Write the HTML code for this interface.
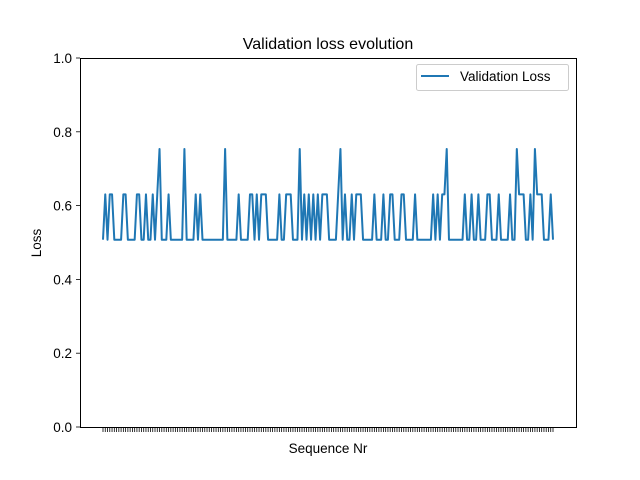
<!DOCTYPE html>
<html><head><meta charset="utf-8"><style>
body{margin:0;background:#fff;}
svg{display:block;font-family:"Liberation Sans","DejaVu Sans",sans-serif;}
</style></head><body>
<svg id="chart" width="640" height="480" viewBox="0 0 640 480">
<rect x="0" y="0" width="640" height="480" fill="#fff"/>
<text x="328" y="49" text-anchor="middle" font-size="16" fill="#000">Validation loss evolution</text>
<text x="328" y="453" text-anchor="middle" font-size="13.5" fill="#000">Sequence Nr</text>
<text x="0" y="0" transform="translate(41,243) rotate(-90)" text-anchor="middle" font-size="13.5" fill="#000">Loss</text>
<g id="ticks"></g>
<polyline id="line" fill="none" stroke="#1f77b4" stroke-width="2" stroke-linejoin="round"/>
<rect x="80.5" y="58.5" width="496" height="369" fill="none" stroke="#000" stroke-width="1"/>
<g>
<rect x="416.5" y="64.5" width="152" height="26" rx="2" fill="#fff" fill-opacity="0.8" stroke="#ccc"/>
<line x1="421" y1="76" x2="449" y2="76" stroke="#1f77b4" stroke-width="2"/>
<text x="460" y="81" font-size="13.5" fill="#000">Validation Loss</text>
</g>
</svg>
<script>
const N = 200;
const midIdx = [1,3,4,9,10,15,16,19,22,24,29,41,43,60,65,66,68,70,71,72,78,81,82,83,89,91,93,95,97,98,99,104,107,110,112,113,114,120,124,127,128,132,133,138,146,148,150,151,160,163,166,170,171,175,180,184,185,186,189,192,193,194,198];
const highIdx = [25,36,54,87,105,152,183,191];
const levels = [0.5075, 0.6305, 0.7535];
const yTicks = [0, 0.2, 0.4, 0.6, 0.8, 1.0];
const yTickLabels = ["0.0","0.2","0.4","0.6","0.8","1.0"];

const values = [];
for (let i = 0; i < N; i++) {
  let v = levels[0];
  if (midIdx.includes(i)) v = levels[1];
  if (highIdx.includes(i)) v = levels[2];
  values.push(v);
}
const x0 = 103, x1 = 553, yTop = 58, yBot = 427;
function xScale(i){ return x0 + (x1 - x0) * i / (N - 1); }
function yScale(v){ return yBot - (yBot - yTop) * v; }

const ns = "http://www.w3.org/2000/svg";
const line = document.getElementById('line');
line.setAttribute('points', values.map((v,i)=>xScale(i).toFixed(2)+','+yScale(v).toFixed(2)).join(' '));

const g = document.getElementById('ticks');
for (let i = 0; i < N; i++) {
  const t = document.createElementNS(ns,'line');
  const x = xScale(i);
  t.setAttribute('x1', x); t.setAttribute('x2', x);
  t.setAttribute('y1', 427); t.setAttribute('y2', 432);
  t.setAttribute('stroke', '#000'); t.setAttribute('stroke-width', '0.8');
  
  
  g.appendChild(t);
}
yTicks.forEach((v, k) => {
  const y = yScale(v);
  const t = document.createElementNS(ns,'line');
  t.setAttribute('x1', 76); t.setAttribute('x2', 80);
  t.setAttribute('y1', y); t.setAttribute('y2', y);
  t.setAttribute('stroke', '#000'); t.setAttribute('stroke-width', '0.8');
  
  
  g.appendChild(t);
  const l = document.createElementNS(ns,'text');
  l.setAttribute('x', 72); l.setAttribute('y', y + 5);
  l.setAttribute('text-anchor', 'end'); l.setAttribute('font-size', '13.5');
  l.textContent = yTickLabels[k];
  
  
  g.appendChild(l);
});
</script>
</body></html>
